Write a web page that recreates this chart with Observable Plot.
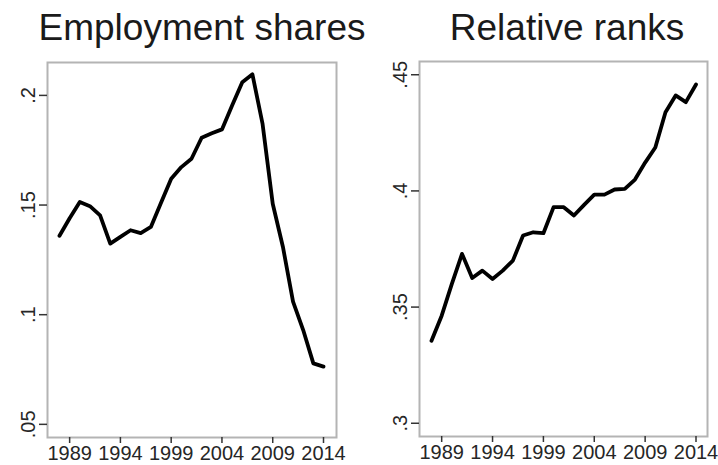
<!DOCTYPE html>
<html>
<head>
<meta charset="utf-8">
<script src="https://cdn.jsdelivr.net/npm/d3@7"></script>
<script src="https://cdn.jsdelivr.net/npm/@observablehq/plot@0.6"></script>
<style>
  html, body { margin: 0; padding: 0; background: white; }
  #wrap { position: relative; width: 718px; height: 465px; overflow: hidden; background: white;
          font-family: "Liberation Sans", Arial, Helvetica, sans-serif; }
  .title { position: absolute; top: 9px; font-size: 37px; line-height: 1; color: #1a1a1a;
           text-align: center; white-space: nowrap; width: 360px; }
  .panel { position: absolute; top: 0; }
</style>
</head>
<body>
<div id="wrap"></div>
<script>
const years = [1988, 1989, 1990, 1991, 1992, 1993, 1994, 1995, 1996, 1997, 1998, 1999, 2000,
               2001, 2002, 2003, 2004, 2005, 2006, 2007, 2008, 2009, 2010, 2011, 2012, 2013, 2014];
const employmentShares = [0.136, 0.144, 0.1514, 0.1495, 0.1453, 0.1324, 0.1355, 0.1385, 0.1372, 0.140,
                          0.151, 0.162, 0.1673, 0.1711, 0.1807, 0.1827, 0.1845, 0.1954, 0.206, 0.2096,
                          0.187, 0.1506, 0.131, 0.106, 0.093, 0.0778, 0.0763];
const relativeRanks = [0.3355, 0.3463, 0.360, 0.3729, 0.3625, 0.3657, 0.3621, 0.3657, 0.370, 0.3808,
                       0.3822, 0.3818, 0.393, 0.393, 0.3894, 0.394, 0.3984, 0.3984, 0.4006, 0.4009,
                       0.4049, 0.4122, 0.4187, 0.4339, 0.4411, 0.4382, 0.4458];
const xTicks = [1989, 1994, 1999, 2004, 2009, 2014];
const yTicksLeft = [0.05, 0.1, 0.15, 0.2];
const yTicksRight = [0.3, 0.35, 0.4, 0.45];
const titles = ["Employment shares", "Relative ranks"];

const stataFmt = d => String(+d.toFixed(4)).replace(/^0/, "");

function panel(values, yTicks, yDomain, xDomain, m, width) {
  const data = years.map((year, i) => ({year, value: values[i]}));
  return Plot.plot({
    width, height: 465,
    marginLeft: m[0], marginRight: m[1], marginTop: m[2], marginBottom: m[3],
    style: {fontFamily: '"Liberation Sans", Arial, Helvetica, sans-serif', fontSize: "20px",
            color: "#262626", background: "transparent", overflow: "visible"},
    x: {domain: xDomain},
    y: {domain: yDomain},
    marks: [
      Plot.frame({stroke: "#b4b4b4", strokeWidth: 2}),
      Plot.axisX({ticks: xTicks, tickFormat: "d", tickSize: 6, tickPadding: 2, line: true,
                  stroke: "#333", strokeWidth: 1.5, label: null, fontSize: 20}),
      Plot.axisY({ticks: yTicks, tickFormat: stataFmt, tickRotate: -90, tickSize: 8, tickPadding: 5,
                  line: true, stroke: "#333", strokeWidth: 1.5, label: null, fontSize: 20}),
      Plot.lineY(data, {x: "year", y: "value", stroke: "black", strokeWidth: 3.8,
                        strokeLinejoin: "round", strokeLinecap: "round"})
    ]
  });
}

const wrap = document.getElementById("wrap");

const left = panel(employmentShares, yTicksLeft, [0.044, 0.215], [1986.82, 2015.28], [47, 14, 62, 28], 350);
left.classList.add("panel"); left.style.left = "0px";
wrap.appendChild(left);

const right = panel(relativeRanks, yTicksRight, [0.2943, 0.4557], [1986.82, 2015.13], [64, 11, 61, 29], 363);
right.classList.add("panel"); right.style.left = "355px";
wrap.appendChild(right);

const centers = [202, 567];
titles.forEach((t, i) => {
  const d = document.createElement("div");
  d.className = "title";
  d.textContent = t;
  d.style.left = (centers[i] - 180) + "px";
  wrap.appendChild(d);
});
</script>
</body>
</html>
